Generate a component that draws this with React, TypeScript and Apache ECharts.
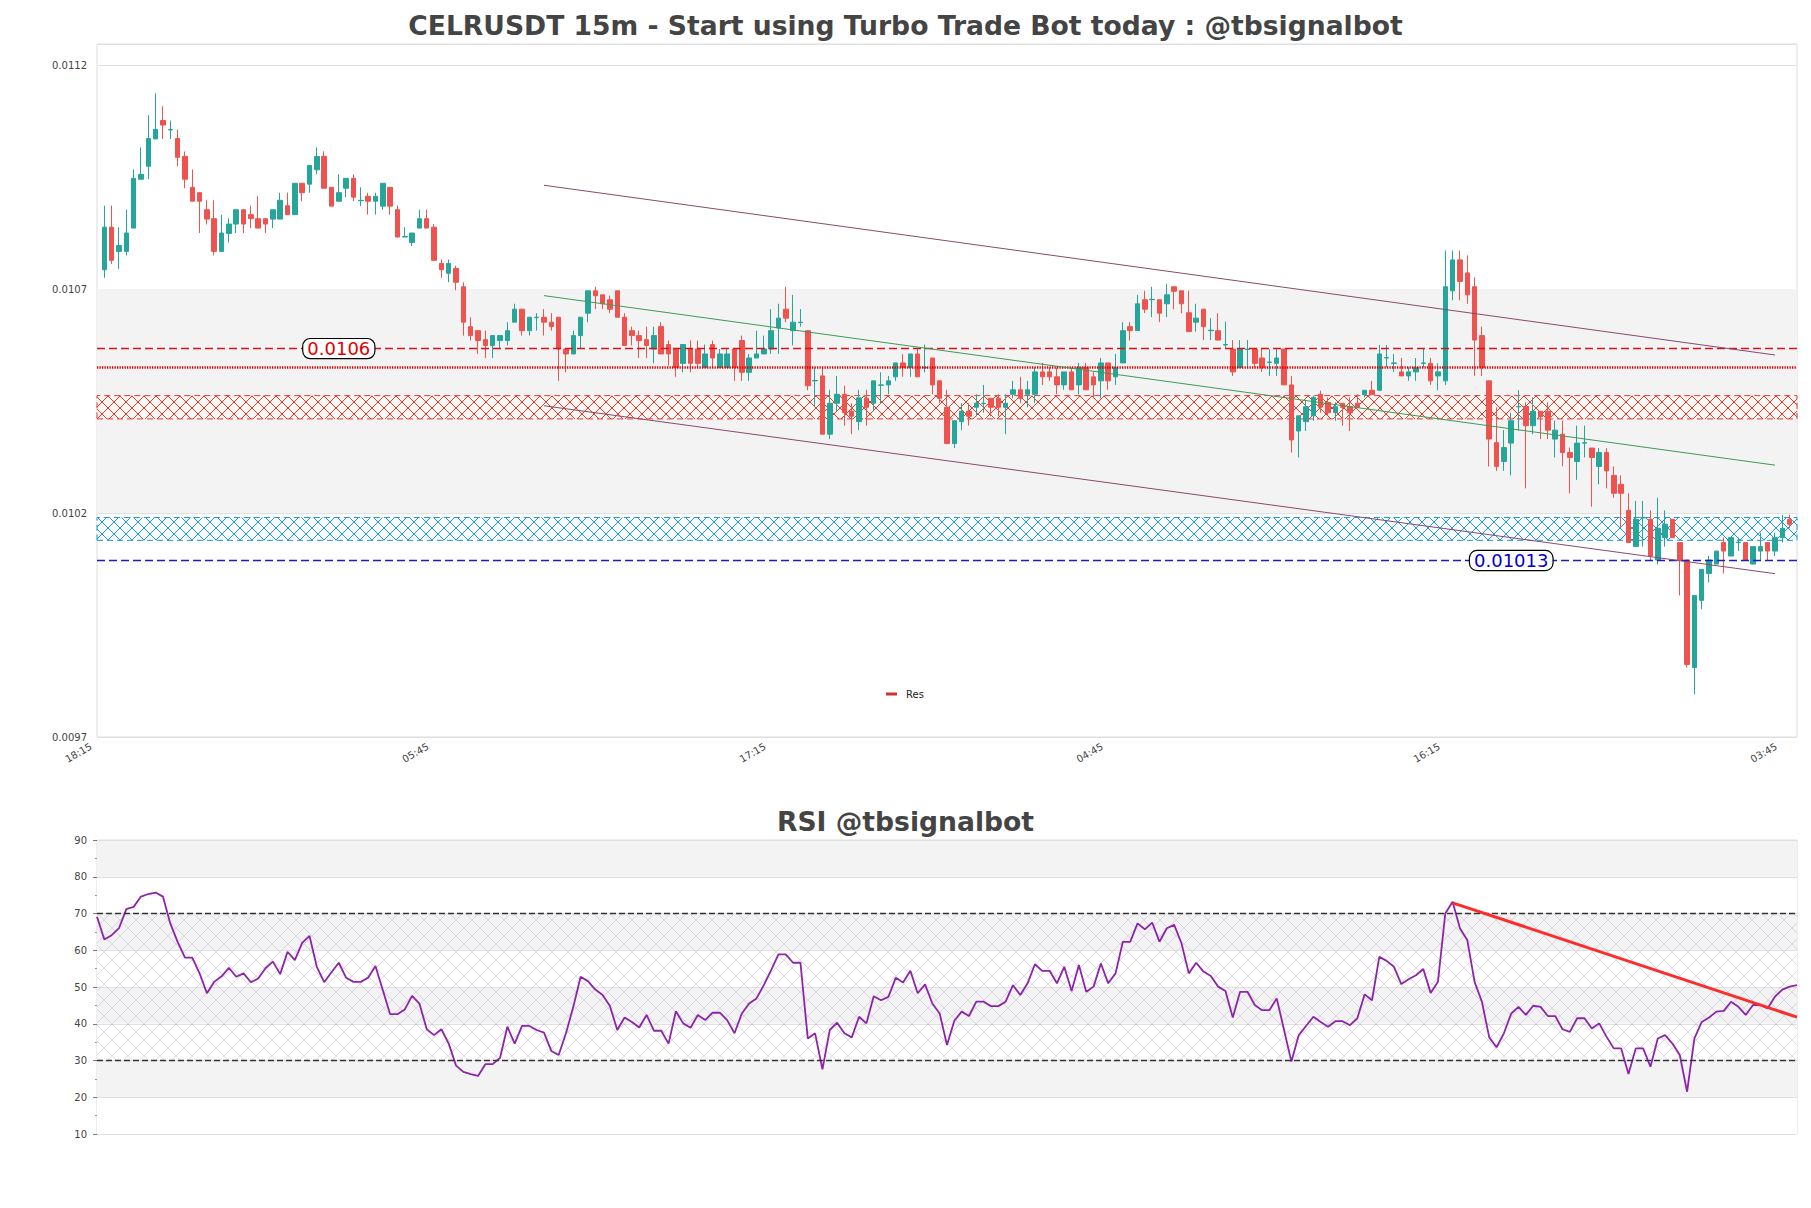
import React, { useEffect, useRef } from 'react';
import * as echarts from 'echarts';

// ---- candle data (15m, 18:15 -> 04:00) ----
const candleOpen = [
  0.010743, 0.010838, 0.010784, 0.010784, 0.010836, 0.010945, 0.010974, 0.011035, 0.011076, 0.011055,
  0.011036, 0.010996, 0.010927, 0.010915, 0.010877, 0.010857, 0.010784, 0.010824, 0.010845, 0.010877,
  0.010866, 0.010857, 0.010857, 0.010856, 0.010856, 0.010886, 0.010866, 0.010936, 0.010934, 0.010966,
  0.010996, 0.010927, 0.010896, 0.010925, 0.010947, 0.010897, 0.010907, 0.010896, 0.010885, 0.010927,
  0.010877, 0.010816, 0.010804, 0.010836, 0.010857, 0.010838, 0.010757, 0.010735, 0.010746, 0.010705,
  0.010616, 0.010607, 0.010587, 0.010574, 0.010585, 0.010585, 0.010626, 0.010655, 0.010607, 0.010636,
  0.010637, 0.010626, 0.010637, 0.010566, 0.010555, 0.010596, 0.010646, 0.010696, 0.010687, 0.010676,
  0.010696, 0.010637, 0.010607, 0.010596, 0.010587, 0.010566, 0.010616, 0.010576, 0.010566, 0.010534,
  0.010566, 0.010566, 0.010525, 0.010576, 0.010525, 0.010525, 0.010566, 0.010585, 0.010514, 0.010546,
  0.010555, 0.010566, 0.010613, 0.010655, 0.010607, 0.010625, 0.010607, 0.010495, 0.010506, 0.010376,
  0.010445, 0.010465, 0.010427, 0.010404, 0.010456, 0.010445, 0.010485, 0.010486, 0.010504, 0.010535,
  0.010525, 0.010555, 0.010524, 0.010546, 0.010495, 0.010436, 0.010355, 0.010404, 0.010427, 0.010436,
  0.010444, 0.010456, 0.010456, 0.010436, 0.010465, 0.010475, 0.010465, 0.010465, 0.010515, 0.010515,
  0.010504, 0.010486, 0.010515, 0.010486, 0.010525, 0.010504, 0.010495, 0.010535, 0.010504, 0.010535,
  0.010616, 0.010607, 0.010676, 0.010676, 0.010676, 0.010667, 0.010705, 0.010696, 0.010647, 0.010626,
  0.010655, 0.010607, 0.010607, 0.010575, 0.010566, 0.010525, 0.010565, 0.010566, 0.010546, 0.010536,
  0.010534, 0.010566, 0.010486, 0.010383, 0.010404, 0.010417, 0.010465, 0.010447, 0.010424, 0.010445,
  0.010437, 0.010445, 0.010464, 0.010474, 0.010474, 0.010546, 0.010534, 0.010515, 0.010506, 0.010515,
  0.010534, 0.010534, 0.010506, 0.010495, 0.010696, 0.010765, 0.010736, 0.010705, 0.010596, 0.010495,
  0.010357, 0.010315, 0.010356, 0.010437, 0.010438, 0.010395, 0.010427, 0.010427, 0.010365, 0.010376,
  0.010335, 0.010315, 0.010356, 0.010345, 0.010304, 0.010335, 0.010284, 0.010264, 0.010206, 0.010125,
  0.010189, 0.010186, 0.010095, 0.010145, 0.010186, 0.010134, 0.010095, 0.009855, 0.010005, 0.010065,
  0.010086, 0.010134, 0.010104, 0.010134, 0.010134, 0.010086, 0.010115, 0.010134, 0.010115, 0.010145,
  0.010186,
];
const candleHigh = [
  0.010886, 0.010886, 0.010838, 0.010877, 0.010967, 0.011016, 0.011088, 0.011137, 0.011108, 0.011076,
  0.011056, 0.011007, 0.010967, 0.010915, 0.010898, 0.010898, 0.010866, 0.010858, 0.010877, 0.010877,
  0.010886, 0.010907, 0.010857, 0.010877, 0.010915, 0.010915, 0.010936, 0.010936, 0.010976, 0.011016,
  0.011007, 0.010927, 0.010956, 0.010947, 0.010956, 0.010927, 0.010915, 0.010915, 0.010936, 0.010927,
  0.010886, 0.010838, 0.010825, 0.010877, 0.010877, 0.010845, 0.010766, 0.010766, 0.010752, 0.010715,
  0.010637, 0.010607, 0.010607, 0.010596, 0.010596, 0.010626, 0.010667, 0.010655, 0.010637, 0.010646,
  0.010655, 0.010646, 0.010637, 0.010566, 0.010607, 0.010637, 0.010696, 0.010705, 0.010687, 0.010685,
  0.010696, 0.010646, 0.010616, 0.010607, 0.010616, 0.010616, 0.010626, 0.010585, 0.010566, 0.010576,
  0.010585, 0.010585, 0.010576, 0.010585, 0.010566, 0.010566, 0.010566, 0.010596, 0.010555, 0.010607,
  0.010596, 0.010655, 0.010667, 0.010705, 0.010687, 0.010655, 0.010607, 0.010525, 0.010525, 0.010475,
  0.010506, 0.010484, 0.010445, 0.010475, 0.010475, 0.010495, 0.010514, 0.010506, 0.010535, 0.010555,
  0.010555, 0.010566, 0.010576, 0.010546, 0.010495, 0.010475, 0.010406, 0.010445, 0.010445, 0.010465,
  0.010486, 0.010456, 0.010465, 0.010465, 0.010495, 0.010504, 0.010495, 0.010525, 0.010535, 0.010525,
  0.010525, 0.010515, 0.010525, 0.010535, 0.010535, 0.010515, 0.010546, 0.010535, 0.010555, 0.010626,
  0.010626, 0.010687, 0.010696, 0.010705, 0.010676, 0.010711, 0.010705, 0.010696, 0.010696, 0.010667,
  0.010655, 0.010635, 0.010646, 0.010627, 0.010586, 0.010586, 0.010586, 0.010566, 0.010566, 0.010566,
  0.010566, 0.010566, 0.010506, 0.010417, 0.010450, 0.010462, 0.010473, 0.010458, 0.010447, 0.010445,
  0.010458, 0.010465, 0.010474, 0.010495, 0.010575, 0.010575, 0.010555, 0.010546, 0.010525, 0.010546,
  0.010566, 0.010546, 0.010534, 0.010786, 0.010786, 0.010786, 0.010775, 0.010726, 0.010616, 0.010495,
  0.010436, 0.010385, 0.010424, 0.010474, 0.010447, 0.010458, 0.010427, 0.010447, 0.010406, 0.010406,
  0.010346, 0.010395, 0.010395, 0.010345, 0.010345, 0.010345, 0.010304, 0.010284, 0.010244, 0.010227,
  0.010227, 0.010206, 0.010234, 0.010206, 0.010186, 0.010134, 0.010095, 0.010016, 0.010074, 0.010104,
  0.010115, 0.010145, 0.010145, 0.010145, 0.010134, 0.010125, 0.010156, 0.010134, 0.010156, 0.010196,
  0.010196,
];
const candleLow = [
  0.010725, 0.010756, 0.010745, 0.010775, 0.010836, 0.010945, 0.010945, 0.011035, 0.011035, 0.011035,
  0.010974, 0.010925, 0.010896, 0.010825, 0.010844, 0.010775, 0.010784, 0.010804, 0.010825, 0.010825,
  0.010836, 0.010836, 0.010825, 0.010836, 0.010856, 0.010866, 0.010866, 0.010896, 0.010915, 0.010956,
  0.010925, 0.010885, 0.010896, 0.010905, 0.010896, 0.010885, 0.010866, 0.010866, 0.010877, 0.010866,
  0.010816, 0.010816, 0.010796, 0.010836, 0.010836, 0.010764, 0.010725, 0.010715, 0.010697, 0.010596,
  0.010585, 0.010555, 0.010546, 0.010546, 0.010566, 0.010574, 0.010626, 0.010596, 0.010596, 0.010607,
  0.010596, 0.010607, 0.010495, 0.010514, 0.010555, 0.010566, 0.010626, 0.010655, 0.010655, 0.010646,
  0.010637, 0.010574, 0.010574, 0.010546, 0.010546, 0.010534, 0.010555, 0.010529, 0.010504, 0.010514,
  0.010514, 0.010525, 0.010525, 0.010525, 0.010525, 0.010525, 0.010495, 0.010495, 0.010495, 0.010546,
  0.010555, 0.010555, 0.010555, 0.010626, 0.010574, 0.010616, 0.010474, 0.010436, 0.010376, 0.010365,
  0.010428, 0.010395, 0.010376, 0.010385, 0.010395, 0.010427, 0.010445, 0.010465, 0.010495, 0.010504,
  0.010504, 0.010504, 0.010514, 0.010465, 0.010445, 0.010355, 0.010345, 0.010385, 0.010395, 0.010416,
  0.010424, 0.010416, 0.010416, 0.010376, 0.010456, 0.010445, 0.010436, 0.010445, 0.010486, 0.010495,
  0.010465, 0.010475, 0.010475, 0.010465, 0.010475, 0.010456, 0.010456, 0.010475, 0.010486, 0.010535,
  0.010585, 0.010607, 0.010646, 0.010637, 0.010626, 0.010637, 0.010655, 0.010646, 0.010605, 0.010605,
  0.010586, 0.010586, 0.010586, 0.010566, 0.010506, 0.010525, 0.010525, 0.010525, 0.010515, 0.010506,
  0.010506, 0.010486, 0.010335, 0.010324, 0.010383, 0.010406, 0.010424, 0.010417, 0.010406, 0.010395,
  0.010383, 0.010436, 0.010458, 0.010464, 0.010474, 0.010525, 0.010515, 0.010506, 0.010495, 0.010495,
  0.010525, 0.010486, 0.010474, 0.010486, 0.010675, 0.010675, 0.010667, 0.010506, 0.010506, 0.010304,
  0.010294, 0.010294, 0.010284, 0.010383, 0.010255, 0.010376, 0.010365, 0.010365, 0.010324, 0.010304,
  0.010244, 0.010274, 0.010324, 0.010214, 0.010264, 0.010255, 0.010234, 0.010167, 0.010134, 0.010125,
  0.010125, 0.010095, 0.010085, 0.010125, 0.010145, 0.010016, 0.009855, 0.009795, 0.009985, 0.010045,
  0.010086, 0.010065, 0.010104, 0.010115, 0.010095, 0.010086, 0.010095, 0.010095, 0.010104, 0.010134,
  0.010166,
];
const candleClose = [
  0.010838, 0.010764, 0.010797, 0.010825, 0.010947, 0.010956, 0.011036, 0.011056, 0.011066, 0.011056,
  0.010994, 0.010945, 0.010896, 0.010896, 0.010856, 0.010784, 0.010825, 0.010845, 0.010877, 0.010845,
  0.010857, 0.010836, 0.010845, 0.010877, 0.010898, 0.010866, 0.010936, 0.010915, 0.010976, 0.010996,
  0.010925, 0.010885, 0.010915, 0.010947, 0.010905, 0.010898, 0.010896, 0.010907, 0.010936, 0.010885,
  0.010816, 0.010817, 0.010825, 0.010857, 0.010836, 0.010764, 0.010743, 0.010757, 0.010715, 0.010626,
  0.010596, 0.010585, 0.010574, 0.010596, 0.010596, 0.010607, 0.010655, 0.010607, 0.010637, 0.010637,
  0.010626, 0.010616, 0.010566, 0.010555, 0.010596, 0.010637, 0.010696, 0.010685, 0.010667, 0.010655,
  0.010637, 0.010574, 0.010596, 0.010585, 0.010574, 0.010596, 0.010555, 0.010555, 0.010525, 0.010576,
  0.010534, 0.010534, 0.010555, 0.010546, 0.010555, 0.010555, 0.010525, 0.010514, 0.010546, 0.010555,
  0.010566, 0.010607, 0.010635, 0.010635, 0.010626, 0.010626, 0.010484, 0.010496, 0.010376, 0.010445,
  0.010465, 0.010424, 0.010416, 0.010457, 0.010436, 0.010495, 0.010486, 0.010495, 0.010535, 0.010525,
  0.010555, 0.010504, 0.010525, 0.010486, 0.010456, 0.010355, 0.010406, 0.010427, 0.010416, 0.010445,
  0.010445, 0.010436, 0.010436, 0.010445, 0.010475, 0.010456, 0.010475, 0.010515, 0.010504, 0.010504,
  0.010486, 0.010515, 0.010475, 0.010525, 0.010475, 0.010486, 0.010535, 0.010495, 0.010525, 0.010607,
  0.010607, 0.010667, 0.010655, 0.010677, 0.010646, 0.010687, 0.010695, 0.010667, 0.010605, 0.010635,
  0.010616, 0.010608, 0.010586, 0.010576, 0.010515, 0.010566, 0.010566, 0.010534, 0.010525, 0.010537,
  0.010546, 0.010486, 0.010363, 0.010417, 0.010437, 0.010458, 0.010436, 0.010424, 0.010437, 0.010436,
  0.010424, 0.010436, 0.010474, 0.010464, 0.010555, 0.010547, 0.010535, 0.010506, 0.010515, 0.010525,
  0.010535, 0.010495, 0.010515, 0.010705, 0.010765, 0.010717, 0.010687, 0.010586, 0.010525, 0.010365,
  0.010304, 0.010346, 0.010406, 0.010438, 0.010395, 0.010427, 0.010415, 0.010385, 0.010385, 0.010335,
  0.010324, 0.010356, 0.010357, 0.010324, 0.010335, 0.010294, 0.010244, 0.010244, 0.010134, 0.010186,
  0.010190, 0.010104, 0.010166, 0.010175, 0.010145, 0.010095, 0.009862, 0.010016, 0.010074, 0.010095,
  0.010115, 0.010115, 0.010145, 0.010135, 0.010095, 0.010125, 0.010125, 0.010115, 0.010145, 0.010166,
  0.010175,
];

// ---- RSI (one value per axis slot, including the padding slots) ----
const rsiValues = [
  69.1, 62.9, 64.1, 66.0, 71.2, 71.8, 74.6, 75.3, 75.7, 74.6,
  67.3, 62.3, 58.0, 58.0, 53.7, 48.3, 51.4, 52.9, 55.2, 52.8,
  53.7, 51.3, 52.3, 55.1, 56.9, 53.5, 59.6, 57.3, 62.0, 63.9,
  55.5, 51.3, 54.0, 56.6, 52.5, 51.4, 51.4, 52.5, 55.7, 49.2,
  42.6, 42.6, 43.9, 47.6, 45.5, 38.5, 36.9, 38.5, 34.6, 28.6,
  26.9, 26.3, 25.8, 29.0, 29.0, 30.7, 39.2, 34.6, 39.4, 39.4,
  38.3, 37.6, 32.6, 31.5, 37.4, 44.6, 52.8, 51.6, 49.3, 47.8,
  44.8, 38.3, 41.7, 40.5, 39.0, 42.4, 38.1, 38.1, 34.6, 43.4,
  40.1, 38.9, 42.4, 41.0, 43.0, 43.0, 41.0, 37.4, 42.8, 45.5,
  46.9, 50.5, 54.6, 58.9, 58.9, 56.6, 56.6, 36.0, 37.4, 27.6,
  38.3, 40.3, 37.4, 36.3, 41.9, 40.1, 47.5, 46.4, 47.3, 52.5,
  51.2, 54.4, 48.3, 50.7, 45.5, 42.8, 34.2, 40.8, 43.3, 42.1,
  46.0, 46.0, 44.8, 44.8, 46.0, 50.5, 47.8, 51.0, 56.2, 54.4,
  54.4, 51.0, 55.5, 48.9, 56.0, 48.7, 50.1, 56.4, 51.0, 53.7,
  62.3, 62.3, 67.3, 65.7, 67.5, 62.3, 66.0, 66.9, 61.9, 53.7,
  56.6, 54.2, 53.0, 50.1, 48.9, 41.7, 48.7, 48.7, 45.1, 43.7,
  43.7, 46.9, 38.3, 29.7, 36.9, 39.4, 41.9, 40.5, 39.2, 40.7,
  40.7, 39.6, 41.5, 48.0, 46.4, 58.2, 57.1, 55.5, 50.8, 52.1,
  53.2, 54.9, 48.4, 51.4, 70.0, 73.2, 66.0, 62.8, 51.4, 46.0,
  36.3, 33.6, 37.4, 42.8, 44.6, 42.4, 44.9, 44.6, 42.1, 42.1,
  38.5, 37.8, 41.5, 41.5, 38.7, 40.1, 36.5, 33.3, 33.3, 26.3,
  33.3, 33.3, 28.3, 36.0, 36.9, 34.6, 31.5, 21.5, 36.0, 40.5,
  41.7, 43.3, 43.5, 46.0, 44.6, 42.4, 45.1, 45.1, 44.2, 47.4,
  49.3, 50.1, 50.5,
];

const xTickLabels = ['18:15', '05:45', '17:15', '04:45', '16:15', '03:45'];
const xTickStep = 46;

// levels
const resDashed = 0.010567;
const resDotted = 0.010526;
const supDashed = 0.010094;
const resZone = [0.01041, 0.010462];
const supZone = [0.010139, 0.01019];
const channelUpper = [[61, 0.0109316], [229, 0.0105527]];
const channelMid = [[61, 0.0106852], [229, 0.0103068]];
const channelLower = [[61, 0.0104394], [229, 0.0100646]];
const rsiTrend = [[185, 72.9], [232, 41.8]];
const resLabel = { slot: 33, value: 0.010567, text: '0.0106' };
const supLabel = { slot: 193, value: 0.010094, text: '0.01013' };

const FONT = 'DejaVu Sans';

function hatch(line: string, bg: string, size: number, lw: number) {
  const c = document.createElement('canvas');
  c.width = size;
  c.height = size;
  const g = c.getContext('2d')!;
  if (bg) {
    g.fillStyle = bg;
    g.fillRect(0, 0, size, size);
  }
  g.strokeStyle = line;
  g.lineWidth = lw;
  g.beginPath();
  g.moveTo(0, 0);
  g.lineTo(size, size);
  g.moveTo(size, 0);
  g.lineTo(0, size);
  g.stroke();
  return { image: c.toDataURL(), imageWidth: size, imageHeight: size, repeat: 'repeat' };
}

export default function App() {
  const ref = useRef<HTMLDivElement>(null);
  useEffect(() => {
    if (!ref.current) return;
    const chart = echarts.init(ref.current, undefined, { renderer: 'svg' });
    const slotCount = candleOpen.length + 2;
    const slots = Array.from({ length: slotCount }, (_, k) => String(k));
    const candles = candleOpen.map((o, i) => [i + 1, o, candleClose[i], candleLow[i], candleHigh[i]]);

    const redHatch = hatch('#e53935', '#fbf7f0', 12, 1);
    const blueHatch = hatch('#2196d3', '#f7fbfd', 12, 1);
    const rsiHatch = hatch('rgba(175,160,195,0.35)', '', 16, 1);

    const labelStyle = (color: string, text: string) => ({
      show: true,
      position: 'inside',
      formatter: text,
      color,
      fontFamily: FONT,
      fontSize: 18,
      backgroundColor: '#ffffff',
      borderColor: '#000000',
      borderWidth: 1.2,
      borderRadius: 7,
      padding: [1, 4, 0, 4],
    });

    const option: any = {
      animation: false,
      backgroundColor: '#ffffff',
      title: [
        {
          text: 'CELRUSDT 15m - Start using Turbo Trade Bot today : @tbsignalbot',
          left: 'center',
          top: 7,
          textStyle: { fontFamily: FONT, fontWeight: 'bold', fontSize: 26.6, color: '#444444' },
        },
        {
          text: 'RSI @tbsignalbot',
          left: 'center',
          top: 803,
          textStyle: { fontFamily: FONT, fontWeight: 'bold', fontSize: 26.6, color: '#444444' },
        },
      ],
      legend: {
        data: ['Res'],
        left: 881,
        top: 684,
        icon: 'rect',
        itemWidth: 11,
        itemHeight: 3,
        textStyle: { fontFamily: FONT, fontSize: 10, color: '#222', padding: [0, 0, 0, 4] },
      },
      grid: [
        { left: 97, top: 44, width: 1700, height: 693, show: true, borderColor: '#dcdcdc', borderWidth: 1 },
        { left: 97, top: 840, width: 1700, height: 294, show: true, borderColor: '#dcdcdc', borderWidth: 1 },
      ],
      xAxis: [
        {
          type: 'category',
          gridIndex: 0,
          data: slots,
          boundaryGap: false,
          axisLine: { show: false },
          axisTick: { show: false },
          splitLine: { show: false },
          axisLabel: {
            interval: xTickStep - 1,
            rotate: 30,
            fontFamily: FONT,
            fontSize: 10,
            color: '#444',
            margin: 5,
            padding: [0, 7, 0, 0],
            formatter: (_v: string, idx: number) =>
              idx % xTickStep === 0 && xTickLabels[idx / xTickStep] ? xTickLabels[idx / xTickStep] : '',
          },
        },
        {
          type: 'category',
          gridIndex: 1,
          data: slots,
          boundaryGap: false,
          axisLine: { show: false },
          axisTick: { show: false },
          axisLabel: { show: false },
          splitLine: { show: false },
        },
      ],
      yAxis: [
        {
          type: 'value',
          gridIndex: 0,
          min: 0.0097,
          max: 0.0112469,
          interval: 0.0005,
          axisLine: { show: false },
          axisTick: { show: false },
          splitLine: { show: true, lineStyle: { color: '#e0e0e0', width: 1 } },
          axisLabel: {
            fontFamily: FONT,
            fontSize: 10,
            color: '#444',
            margin: 10,
            showMaxLabel: false,
            formatter: (v: number) => v.toFixed(4),
          },
        },
        {
          type: 'value',
          gridIndex: 1,
          min: 10,
          max: 90,
          interval: 10,
          axisLine: { show: false },
          axisTick: { show: true, length: 4, lineStyle: { color: '#777' } },
          minorTick: { show: true, splitNumber: 2, length: 2, lineStyle: { color: '#999' } },
          splitLine: { show: true, lineStyle: { color: '#e0e0e0', width: 1 } },
          splitArea: { show: true, areaStyle: { color: ['#ffffff', '#f3f3f4'] } },
          axisLabel: { fontFamily: FONT, fontSize: 10, color: '#444', margin: 10 },
        },
      ],
      series: [
        {
          name: 'zones',
          type: 'line',
          xAxisIndex: 0,
          yAxisIndex: 0,
          data: [],
          z: 1,
          markArea: {
            silent: true,
            data: [
              [{ yAxis: 0.0102, itemStyle: { color: '#f3f3f4' } }, { yAxis: 0.0107 }],
              [
                {
                  yAxis: resZone[0],
                  itemStyle: { color: redHatch, borderColor: '#e53935', borderWidth: 1, borderType: [6, 4] },
                },
                { yAxis: resZone[1] },
              ],
              [
                {
                  yAxis: supZone[0],
                  itemStyle: { color: blueHatch, borderColor: '#2196d3', borderWidth: 1, borderType: [6, 4] },
                },
                { yAxis: supZone[1] },
              ],
            ],
          },
        },
        {
          name: 'CELRUSDT',
          type: 'candlestick',
          xAxisIndex: 0,
          yAxisIndex: 0,
          data: candles,
          encode: { x: 0, y: [1, 2, 3, 4] },
          barWidth: 5,
          z: 3,
          itemStyle: {
            color: '#26a69a',
            color0: '#ef5350',
            borderColor: '#26a69a',
            borderColor0: '#ef5350',
            borderWidth: 1,
          },
        },
        {
          name: 'Res',
          type: 'line',
          xAxisIndex: 0,
          yAxisIndex: 0,
          data: [],
          z: 4,
          color: '#d32f2f',
          itemStyle: { color: '#d32f2f' },
          lineStyle: { color: '#d32f2f' },
          markLine: {
            silent: true,
            precision: 8,
            symbol: ['none', 'none'],
            label: { show: false },
            data: [
              { yAxis: resDashed, lineStyle: { color: '#e01010', width: 1.3, type: [8, 4] } },
              { yAxis: resDotted, lineStyle: { color: '#dd0000', width: 2.6, type: [1.3, 1.2] } },
              { yAxis: supDashed, lineStyle: { color: '#1a1acc', width: 1.3, type: [8, 4] } },
              [
                { coord: channelUpper[0], lineStyle: { color: '#8a4a6c', width: 1, type: 'solid' } },
                { coord: channelUpper[1] },
              ],
              [
                { coord: channelMid[0], lineStyle: { color: '#3d9b55', width: 1, type: 'solid' } },
                { coord: channelMid[1] },
              ],
              [
                { coord: channelLower[0], lineStyle: { color: '#8a4a6c', width: 1, type: 'solid' } },
                { coord: channelLower[1] },
              ],
            ],
          },
          markPoint: {
            silent: true,
            symbol: 'rect',
            symbolSize: 1,
            itemStyle: { color: 'rgba(0,0,0,0)' },
            data: [
              { coord: [resLabel.slot, resLabel.value], label: labelStyle('#e00000', resLabel.text) },
              { coord: [supLabel.slot, supLabel.value], label: labelStyle('#0000d0', supLabel.text) },
            ],
          },
        },
        {
          name: 'rsiZone',
          type: 'line',
          xAxisIndex: 1,
          yAxisIndex: 1,
          data: [],
          z: 1,
          markArea: {
            silent: true,
            data: [[{ yAxis: 30, itemStyle: { color: rsiHatch } }, { yAxis: 70 }]],
          },
        },
        {
          name: 'RSI',
          type: 'line',
          xAxisIndex: 1,
          yAxisIndex: 1,
          data: rsiValues,
          showSymbol: false,
          symbol: 'none',
          z: 3,
          lineStyle: { color: '#8e24aa', width: 1.8 },
          itemStyle: { color: '#8e24aa' },
          markLine: {
            silent: true,
            symbol: ['none', 'none'],
            label: { show: false },
            data: [
              { yAxis: 70, lineStyle: { color: '#333', width: 1.3, type: [6, 3] } },
              { yAxis: 30, lineStyle: { color: '#333', width: 1.3, type: [6, 3] } },
              [
                { coord: rsiTrend[0], lineStyle: { color: '#ff2a2a', width: 3, type: 'solid' } },
                { coord: rsiTrend[1] },
              ],
            ],
          },
        },
      ],
    };
    chart.setOption(option);
    return () => chart.dispose();
  }, []);
  return (
    <div
      ref={ref}
      style={{ position: 'fixed', left: 0, top: 0, width: 1811, height: 1208, background: '#fff' }}
    />
  );
}
